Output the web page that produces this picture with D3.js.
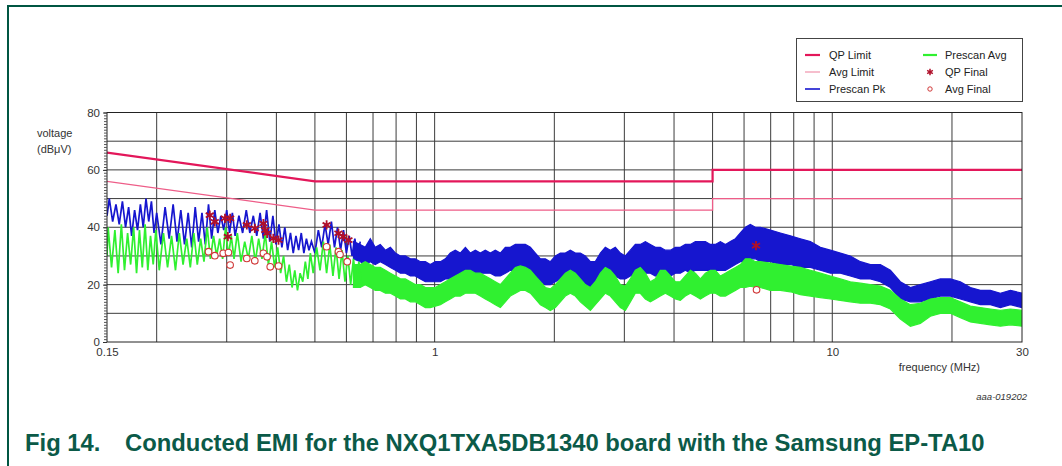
<!DOCTYPE html>
<html><head><meta charset="utf-8">
<script src="https://cdn.jsdelivr.net/npm/d3@7"></script>
<style>html,body{margin:0;padding:0;background:#fff;} svg{display:block;}</style>
</head><body>
<svg id="c" width="1062" height="466"></svg>
<script>
// ---------- DATA ----------
const xTickValues = [0.15, 1, 10, 30];
const xTickLabels = ["0.15", "1", "10", "30"];
const yTickValues = [0, 20, 40, 60, 80];
const xGridFreqs = [0.2,0.3,0.4,0.5,0.6,0.7,0.8,0.9,1,2,3,4,5,6,7,8,9,10,20];
const yGridValues = [10,20,30,40,50,60,70];

// limit lines (MHz, dBµV)
const qpLimitFreq = [0.15, 0.5, 5, 5, 30];
const qpLimitVal  = [66, 56, 56, 60, 60];
const avgLimitFreq = [0.15, 0.5, 5, 5, 30];
const avgLimitVal  = [56, 46, 46, 50, 50];

// Prescan Pk, low-frequency region (individual spikes)
const pkLfFreq = [0.150,0.152,0.155,0.158,0.161,0.164,0.167,0.170,0.173,0.176,0.179,0.182,0.185,0.188,0.191,0.194,0.197,0.200,
  0.205,0.210,0.215,0.220,0.225,0.230,0.235,0.240,0.245,0.250,0.255,0.260,0.265,0.270,0.275,0.280,0.285,0.290,0.295,0.300,0.305,0.310,0.315,
  0.322,0.329,0.336,0.343,0.350,0.357,0.364,0.371,0.378,0.385,0.392,0.399,0.406,0.413,0.420,0.427,0.434,0.441,0.448,0.455,0.462,0.469,0.476,0.483,0.490,
  0.500,0.510,0.520,0.530,0.540,0.550,0.560,0.570,0.580,0.590,0.600,0.610,0.620,0.630,0.640,0.650];
const pkLfVal = [44,50,42,48,41,49,40,47,37,46,39,48,40,50,42,49,38,45,
  34,47,36,48,35,46,34,45,33,47,35,45,34,48,36,46,38,44,39,46,38,45,37,
  44,38,46,38,44,37,45,36,46,35,44,34,41,33,40,32,38,31,37,32,38,31,36,32,35,
  31,39,33,41,34,42,33,40,32,39,31,37,30,36,30,35];

// Prescan Avg, low-frequency region
const avgLfFreq = [0.150,0.151,0.154,0.157,0.160,0.163,0.166,0.169,0.172,0.175,0.178,0.181,0.184,0.187,0.190,0.193,0.196,0.199,
  0.203,0.208,0.213,0.218,0.223,0.228,0.233,0.238,0.243,0.248,0.253,0.258,0.263,0.268,0.273,0.278,0.283,0.288,0.293,0.298,0.303,0.308,0.313,
  0.319,0.326,0.333,0.340,0.347,0.354,0.361,0.368,0.375,0.382,0.389,0.396,0.403,0.410,0.417,0.424,0.431,0.438,0.445,0.452,0.459,0.466,0.473,0.480,0.487,
  0.495,0.505,0.515,0.525,0.535,0.545,0.555,0.565,0.575,0.585,0.595,0.605,0.615,0.625,0.635,0.645,0.655];
const avgLfVal = [30,40,26,39,24,41,25,38,27,40,24,39,26,41,25,37,27,39,
  25,38,26,37,25,38,27,36,26,38,27,36,28,40,29,37,30,36,29,40,30,37,29,
  38,28,35,29,37,28,36,29,38,27,35,26,33,24,30,21,27,19,25,18,24,21,28,22,31,
  24,33,25,35,24,34,23,33,22,32,21,30,20,29,21,28,20];

// Prescan envelopes, dense region 0.62 .. 30 MHz
const bandFreq = [0.625,0.650,0.669,0.689,0.709,0.730,0.752,0.774,0.797,0.820,0.844,0.869,0.894,0.921,0.948,0.975,
  1.004,1.034,1.064,1.095,1.127,1.160,1.195,1.230,1.266,1.303,1.341,1.381,1.421,1.463,1.506,1.550,1.596,1.643,1.691,1.741,1.792,1.845,1.899,1.954,
  2.012,2.071,2.132,2.194,2.259,2.325,2.393,2.464,2.536,2.611,2.687,2.766,2.847,2.931,3.017,3.106,3.197,3.291,3.388,3.487,3.590,3.695,3.804,3.916,
  4.031,4.149,4.271,4.397,4.526,4.659,4.796,4.937,5.082,5.231,5.385,5.543,5.706,5.873,6.046,6.223,6.406,6.594,6.987,7.403,7.845,8.312,8.808,9.333,9.889,
  10.48,11.10,11.77,12.47,13.21,14.00,14.83,15.72,16.65,17.65,18.70,19.81,20.99,22.25,23.57,24.98,26.47,28.05,30.0];
const pkHi = [35,34,33,36,33,34,32,33,31,30,30,29,29,28,28,27,
  28,28,29,31,32,31,33,31,32,31,32,31,32,31,33,33,34,34,34,33,31,29,29,28,
  30,31,31,32,31,31,30,28,28,31,33,32,33,31,30,32,34,34,35,34,33,33,32,32,
  33,33,34,34,35,35,35,34,34,35,34,35,36,38,40,41,40,40,39,38,37,36,35,33,32,
  31,30,28,27,27,25,21,19,20,21,22,22,21,19,18,18,17,18,17];
const pkLo = [29,28,27,28,27,28,27,26,25,24,24,23,23,22,21,21,
  21,21,22,22,23,23,24,24,24,24,24,24,23,23,24,25,25,25,24,23,22,21,20,20,
  21,22,22,22,22,21,20,19,20,22,23,23,23,22,22,23,24,24,24,24,23,24,24,23,
  24,24,25,24,25,25,25,25,25,25,25,26,27,28,28,29,29,28,28,27,27,26,26,25,24,
  24,23,22,22,21,19,15,14,14,15,16,16,15,14,13,13,12,13,12];
const avgHi = [27,27,28,27,26,26,25,24,23,22,22,21,20,20,19,19,
  19,20,21,22,23,24,25,25,24,24,23,22,21,20,22,24,26,26.5,26,25,23,21,19,18.5,
  20,22,24,25,24,22,20,19,21,24,26,25,23,20,19.5,22,25,26,24,21,22,25,25,23,
  21,21,23,25,24,22,24,25,25,23,24,25,26,27,29,29,28,28,27.5,27,26.5,26,25,24,23,
  22,21,20.5,20,19.5,18,15,13,13.5,15,15.5,15.5,14,12.5,12,11.5,11,11.5,11];
const avgLo = [19,19,20,19,18,18,17,17,16,15,15,14,14,13,12,12,
  12.5,13,14,15,16,16,17,17,17,16,15,14,13,12,14,16,17,18,18,17,15,13,12,11,
  12,14,16,17,16,14,12.5,11,13,15,17,16,14,12,11,14,17,17,15,14,15,16,17,16,
  15,14.5,16,17,16,15,16,17,17,16,16,17,18,19,19,19.5,19,19,18,18,17.5,16.5,16,15.5,15,
  14.5,14,13.5,13.5,13,11.5,8,5.5,6.5,9,10,10,8.5,7,6.5,6,5.5,6,5.5];

// final measurements
const qpFinalFreq = [0.272,0.280,0.297,0.306,0.302,0.337,0.353,0.371,0.375,0.379,0.393,0.405,0.535,0.573,0.589,0.607,6.43];
const qpFinalVal  = [44.2,41.9,43.1,43.1,36.7,40.8,39.6,41.3,39.0,37.9,36.1,35.5,40.8,37.9,36.7,35.5,33.6];
const avgFinalFreq = [0.270,0.280,0.294,0.303,0.306,0.337,0.353,0.371,0.379,0.386,0.405,0.535,0.573,0.578,0.603,6.45];
const avgFinalVal  = [31.5,30.1,30.9,31.2,26.8,29.1,28.3,30.9,29.7,26.2,26.5,33.2,31.5,30.5,28.0,18.2];

const legendCol1 = ["QP Limit", "Avg Limit", "Prescan Pk"];
const legendCol2 = ["Prescan Avg", "QP Final", "Avg Final"];

// ---------- STYLE ----------
const FONT = "'Liberation Sans', Arial, Helvetica, sans-serif";
const C_QP = "#e3175a", C_AVGL = "#ee5d88", C_PK = "#1616cf", C_AVG = "#30f030";
const C_QPF = "#b0102a", C_AVGF = "#d03838", C_TEAL = "#005642", C_GRID = "#3c3c3c";

const svg = d3.select("#c");
svg.append("rect").attr("width",1062).attr("height",466).attr("fill","#fff");

// frame
svg.append("path").attr("d","M8,466 L8,6 L1062,6").attr("fill","none").attr("stroke",C_TEAL).attr("stroke-width",2);

const x = d3.scaleLog().domain([0.15,30]).range([107,1022]);
const y = d3.scaleLinear().domain([0,80]).range([342,112.5]);
const [X0,X1] = x.range(), [Y0,Y1] = y.range();

const plot = svg.append("g");
plot.append("defs").append("clipPath").attr("id","clip")
  .append("rect").attr("x",X0).attr("y",Y1).attr("width",X1-X0).attr("height",Y0-Y1);

// grid
plot.selectAll("line.gx").data(xGridFreqs).join("line")
  .attr("x1",d=>x(d)).attr("x2",d=>x(d)).attr("y1",Y1).attr("y2",Y0)
  .attr("stroke",C_GRID).attr("stroke-width",1);
plot.selectAll("line.gy").data(yGridValues).join("line")
  .attr("x1",X0).attr("x2",X1).attr("y1",d=>y(d)).attr("y2",d=>y(d))
  .attr("stroke",C_GRID).attr("stroke-width",1);

const data = plot.append("g").attr("clip-path","url(#clip)");

// prescan pk
const zip = (f,v)=>f.map((d,i)=>[d,v[i]]);
const line = d3.line().x(d=>x(d[0])).y(d=>y(d[1]));
const bandRows = bandFreq.map((f,i)=>({f, ph:pkHi[i], pl:pkLo[i], ah:avgHi[i], al:avgLo[i]}));

data.append("path").datum(bandRows)
  .attr("d", d3.area().x(d=>x(d.f)).y0(d=>y(d.pl)).y1(d=>y(d.ph)))
  .attr("fill",C_PK).attr("stroke",C_PK).attr("stroke-width",1.2).attr("stroke-linejoin","miter");
data.append("path").datum(zip(pkLfFreq,pkLfVal)).attr("d",line)
  .attr("fill","none").attr("stroke",C_PK).attr("stroke-width",1.7);

// prescan avg
data.append("path").datum(bandRows)
  .attr("d", d3.area().x(d=>x(d.f)).y0(d=>y(d.al)).y1(d=>y(d.ah)))
  .attr("fill",C_AVG).attr("stroke",C_AVG).attr("stroke-width",1.2);
data.append("path").datum(zip(avgLfFreq,avgLfVal)).attr("d",line)
  .attr("fill","none").attr("stroke",C_AVG).attr("stroke-width",1.7);

// limits
data.append("path").datum(zip(avgLimitFreq,avgLimitVal)).attr("d",line)
  .attr("fill","none").attr("stroke",C_AVGL).attr("stroke-width",1.3);
data.append("path").datum(zip(qpLimitFreq,qpLimitVal)).attr("d",line)
  .attr("fill","none").attr("stroke",C_QP).attr("stroke-width",2.2);

// finals
const ast = d3.symbol().type(d3.symbolAsterisk).size(60);
svg.selectAll("path.qpf").data(zip(qpFinalFreq,qpFinalVal)).join("path").attr("class","qpf")
  .attr("d",ast).attr("transform",d=>`translate(${x(d[0])},${y(d[1])})`)
  .attr("fill","none").attr("stroke",C_QPF).attr("stroke-width",1.8);
svg.selectAll("circle.af").data(zip(avgFinalFreq,avgFinalVal)).join("circle").attr("class","af")
  .attr("cx",d=>x(d[0])).attr("cy",d=>y(d[1])).attr("r",3.3)
  .attr("fill","#fff").attr("stroke",C_AVGF).attr("stroke-width",1.1);

// border
svg.append("rect").attr("x",X0).attr("y",Y1).attr("width",X1-X0).attr("height",Y0-Y1)
  .attr("fill","none").attr("stroke","#222").attr("stroke-width",1);

// y axis
const yMinor = svg.append("g").attr("transform",`translate(${X0},0)`)
  .call(d3.axisLeft(y).tickValues(d3.range(0,81,1)).tickSize(3).tickFormat(""));
yMinor.select(".domain").remove();
yMinor.selectAll("line").attr("stroke","#555");
const yAx = svg.append("g").attr("transform",`translate(${X0},0)`)
  .call(d3.axisLeft(y).tickValues(yTickValues).tickSize(4).tickPadding(3));
yAx.select(".domain").remove();
yAx.selectAll("line").attr("stroke","#333");
yAx.selectAll("text").attr("font-family",FONT).attr("font-size",11.5).attr("fill","#333");

// x axis
const xAx = svg.append("g").attr("transform",`translate(0,${Y0})`)
  .call(d3.axisBottom(x).tickValues(xTickValues).tickSize(0).tickPadding(6)
    .tickFormat((d,i)=>xTickLabels[i]));
xAx.select(".domain").remove();
xAx.selectAll("text").attr("font-family",FONT).attr("font-size",11.5).attr("fill","#333");

// axis titles
svg.append("text").attr("x",37).attr("y",137).text("voltage")
  .attr("font-family",FONT).attr("font-size",11).attr("fill","#333");
svg.append("text").attr("x",37).attr("y",153).text("(dBμV)")
  .attr("font-family",FONT).attr("font-size",11).attr("fill","#333");
svg.append("text").attr("x",980).attr("y",371).attr("text-anchor","end").text("frequency (MHz)")
  .attr("font-family",FONT).attr("font-size",11).attr("fill","#333");
svg.append("text").attr("x",1027).attr("y",400).attr("text-anchor","end").text("aaa-019202")
  .attr("font-family",FONT).attr("font-size",9.5).attr("font-style","italic").attr("fill","#333");

// legend
const lg = svg.append("g");
lg.append("rect").attr("x",796.5).attr("y",38.5).attr("width",226).attr("height",63)
  .attr("fill","#fff").attr("stroke","#444").attr("stroke-width",1);
const rowY = [55,72,89];
const col1Style = [{c:C_QP,w:2.2},{c:"#f3a9bd",w:1.5},{c:C_PK,w:1.6}];
legendCol1.forEach((t,i)=>{
  lg.append("line").attr("x1",805).attr("x2",820).attr("y1",rowY[i]).attr("y2",rowY[i])
    .attr("stroke",col1Style[i].c).attr("stroke-width",col1Style[i].w);
  lg.append("text").attr("x",829).attr("y",rowY[i]+4).text(t)
    .attr("font-family",FONT).attr("font-size",11).attr("fill","#222");
});
legendCol2.forEach((t,i)=>{
  if(i===0) lg.append("line").attr("x1",923).attr("x2",937).attr("y1",rowY[i]).attr("y2",rowY[i])
    .attr("stroke",C_AVG).attr("stroke-width",2.2);
  if(i===1) lg.append("path").attr("d",d3.symbol().type(d3.symbolAsterisk).size(30)())
    .attr("transform",`translate(930,${rowY[i]})`).attr("fill","none").attr("stroke",C_QPF).attr("stroke-width",1.5);
  if(i===2) lg.append("circle").attr("cx",930).attr("cy",rowY[i]).attr("r",2.2)
    .attr("fill","#fff").attr("stroke",C_AVGF).attr("stroke-width",1);
  lg.append("text").attr("x",945).attr("y",rowY[i]+4).text(t)
    .attr("font-family",FONT).attr("font-size",11).attr("fill","#222");
});

// caption
const capFont = "'Liberation Sans', Arial, sans-serif";
const fig = svg.append("text").attr("x",25).attr("y",451).text("Fig 14.")
  .attr("font-family",capFont).attr("font-weight","bold").attr("font-size",20).attr("fill","#0b5a48");
const cap = svg.append("text").attr("x",125).attr("y",451)
  .text("Conducted EMI for the NXQ1TXA5DB1340 board with the Samsung EP-TA10")
  .attr("font-family",capFont).attr("font-weight","bold").attr("font-size",20).attr("fill","#0b5a48");
const len = cap.node().getComputedTextLength();
if (len > 0) { const fs = 20 * 860 / len; cap.attr("font-size", fs); fig.attr("font-size", fs); }
</script>
</body></html>
